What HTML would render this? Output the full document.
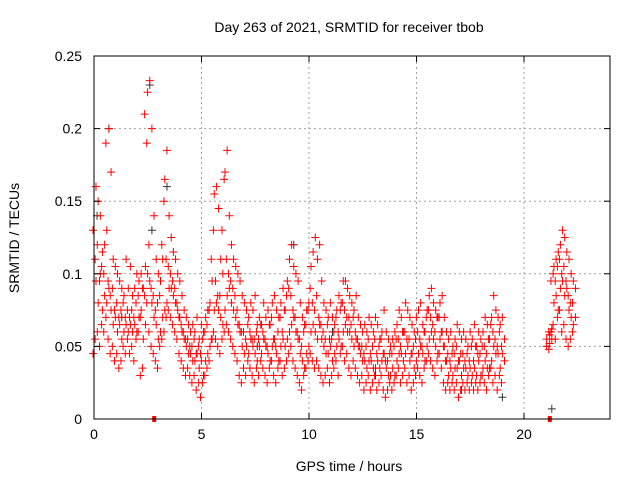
<!DOCTYPE html>
<html><head><meta charset="utf-8"><style>
body{margin:0;background:#fff;}
svg text{font-family:"Liberation Sans",sans-serif;font-size:14px;fill:#000;}
</style></head><body>
<svg id="chart" width="640" height="480" xmlns="http://www.w3.org/2000/svg">
<rect width="640" height="480" fill="#fff"/>
<g id="grid"></g>
<g id="pts"></g>
<rect x="94" y="56" width="516" height="363" fill="none" stroke="#000" stroke-width="1"/>
<g id="ticks"></g>
<text x="349" y="32" text-anchor="middle">Day 263 of 2021, SRMTID for receiver tbob</text>
<text x="349" y="471" text-anchor="middle">GPS time / hours</text>
<text transform="translate(19,238) rotate(-90)" text-anchor="middle">SRMTID / TECUs</text>
</svg>
<script>
const xTicks=[0,5,10,15,20];
const yTicks=[0,0.05,0.1,0.15,0.2,0.25];
const yTickLabels=["0","0.05","0.1","0.15","0.2","0.25"];
const hours=[0,0.1,0.2,0.3,0.4,0.5,0.6,0.7,0.8,0.9,1,1.1,1.2,1.3,1.4,1.5,1.6,1.7,1.8,1.9,2,2.1,2.2,2.3,2.4,2.5,2.6,2.7,2.8,2.9,3,3.1,3.2,3.3,3.4,3.5,3.6,3.7,3.8,3.9,4,4.1,4.2,4.3,4.4,4.5,4.6,4.7,4.8,4.9,5,5.1,5.2,5.3,5.4,5.5,5.6,5.7,5.8,5.9,6,6.1,6.2,6.3,6.4,6.5,6.6,6.7,6.8,6.9,7,7.1,7.2,7.3,7.4,7.5,7.6,7.7,7.8,7.9,8,8.1,8.2,8.3,8.4,8.5,8.6,8.7,8.8,8.9,9,9.1,9.2,9.3,9.4,9.5,9.6,9.7,9.8,9.9,10,10.1,10.2,10.3,10.4,10.5,10.6,10.7,10.8,10.9,11,11.1,11.2,11.3,11.4,11.5,11.6,11.7,11.8,11.9,12,12.1,12.2,12.3,12.4,12.5,12.6,12.7,12.8,12.9,13,13.1,13.2,13.3,13.4,13.5,13.6,13.7,13.8,13.9,14,14.1,14.2,14.3,14.4,14.5,14.6,14.7,14.8,14.9,15,15.1,15.2,15.3,15.4,15.5,15.6,15.7,15.8,15.9,16,16.1,16.2,16.3,16.4,16.5,16.6,16.7,16.8,16.9,17,17.1,17.2,17.3,17.4,17.5,17.6,17.7,17.8,17.9,18,18.1,18.2,18.3,18.4,18.5,18.6,18.7,18.8,18.9,19,21.1,21.2,21.3,21.4,21.5,21.6,21.7,21.8,21.9,22,22.1,22.2,22.3];
// milli-TECU values, 4 per time step
const srmtid=[[45,95,130,160],[55,80,110,150],[60,100,120,140],[50,75,95,115],[65,85,105,120],[60,80,100,130],[70,90,190,200],[55,75,95,170],[45,65,85,110],[50,70,90,105],[40,60,75,100],[45,65,80,95],[35,55,70,90],[40,60,75,85],[50,65,80,110],[45,60,70,90],[55,65,75,105],[45,60,70,85],[50,65,75,90],[40,60,70,100],[55,70,80,95],[60,75,85,100],[30,55,70,90],[35,65,90,105],[85,100,210,225],[80,95,190,233],[60,80,120,200],[50,70,90,140],[45,65,85,110],[40,55,75,100],[35,60,80,95],[50,70,85,110],[55,75,120,165],[60,80,150,185],[70,90,110,140],[75,90,105,125],[70,85,100,115],[65,80,95,110],[60,75,90,100],[55,70,80,95],[45,60,70,85],[40,55,65,75],[35,50,60,70],[30,45,55,65],[35,45,55,60],[30,40,50,65],[25,40,50,60],[30,45,55,70],[20,35,45,55],[25,40,50,65],[15,30,45,60],[25,40,55,70],[30,45,60,75],[35,50,65,80],[40,55,75,95],[55,75,110,155],[60,80,130,160],[55,75,95,145],[50,70,85,110],[45,65,85,100],[55,75,130,170],[60,85,165,185],[65,90,110,140],[60,80,100,120],[55,75,95,110],[50,70,90,105],[45,65,85,100],[40,60,75,95],[30,50,65,85],[25,45,60,80],[35,50,60,75],[30,45,55,70],[40,55,65,80],[35,50,60,75],[30,45,55,85],[25,40,55,65],[35,50,60,70],[30,45,55,65],[40,55,65,80],[35,50,60,70],[30,45,55,75],[25,40,50,65],[35,50,65,80],[40,55,70,85],[30,45,55,75],[25,40,50,70],[35,50,60,80],[40,55,70,90],[30,50,60,75],[35,55,75,95],[40,60,85,110],[45,65,90,120],[50,70,85,105],[40,60,75,100],[35,55,70,95],[30,45,60,80],[25,40,55,70],[20,35,50,65],[30,45,60,75],[35,50,65,80],[40,60,75,105],[45,65,90,115],[40,60,80,125],[35,55,75,110],[40,65,85,120],[35,55,70,95],[30,50,65,80],[25,45,60,75],[30,45,55,70],[35,50,65,80],[25,40,55,70],[30,45,55,65],[35,50,60,75],[40,55,70,85],[30,50,60,80],[45,60,75,95],[50,65,80,95],[40,60,75,90],[45,60,70,85],[35,55,70,80],[30,50,65,75],[40,55,70,85],[35,50,60,70],[30,45,55,65],[25,40,50,60],[30,40,50,65],[20,35,45,60],[25,40,50,70],[30,40,55,65],[20,35,45,60],[25,35,50,70],[30,40,55,65],[20,35,45,55],[25,40,50,60],[30,45,55,75],[20,35,45,60],[15,30,40,55],[20,30,40,50],[25,35,45,55],[20,30,45,60],[25,40,50,65],[30,45,55,75],[35,45,55,70],[25,40,50,60],[30,45,60,80],[35,50,60,75],[25,40,55,70],[30,45,55,65],[20,35,45,60],[25,40,50,70],[30,45,55,75],[35,50,60,80],[30,45,55,65],[25,40,50,60],[35,50,60,75],[40,55,70,85],[45,60,75,90],[40,55,70,80],[35,50,65,75],[30,45,60,70],[40,55,70,80],[45,60,70,85],[35,50,60,70],[25,40,50,60],[20,30,40,55],[25,35,45,60],[20,30,40,50],[25,35,45,55],[20,35,45,65],[25,40,50,60],[15,30,40,55],[20,35,45,60],[25,35,45,55],[20,30,40,50],[25,35,45,60],[20,30,40,55],[25,35,50,65],[20,30,40,50],[25,40,50,60],[20,30,45,55],[25,35,45,60],[30,40,50,70],[25,35,50,65],[20,35,45,55],[30,40,55,70],[35,50,65,85],[25,45,60,75],[30,45,55,70],[20,35,50,65],[30,45,60,70],[25,40,50,55],[50,52,55,58],[48,55,60,62],[60,80,95,105],[65,85,100,110],[55,75,95,115],[70,90,105,120],[75,95,110,130],[60,85,100,125],[65,90,105,115],[55,75,95,110],[50,70,85,100],[55,65,80,95],[60,70,80,90]];
const greyHours=[0.05,0.6,2.5,2.6,3.3,9.2,13.0,17.0,18.9,21.2,1.2,7.5,11.0];
const greyValues=[0.14,0.2,0.23,0.13,0.16,0.12,0.03,0.02,0.015,0.007,0.07,0.05,0.06];
const flagHours=[2.8,21.2];

const X0=94,X1=610,Y0=419,Y1=56;
const xs=h=>X0+h/24*(X1-X0);
const ys=v=>Y0-v/0.25*(Y0-Y1);
const NS="http://www.w3.org/2000/svg";
function mk(tag,attrs,parent){const e=document.createElementNS(NS,tag);for(const k in attrs)e.setAttribute(k,attrs[k]);parent.appendChild(e);return e;}
const grid=document.getElementById('grid'),ticks=document.getElementById('ticks'),pts=document.getElementById('pts');
xTicks.forEach(t=>{const x=xs(t);
 if(t>0){const g=mk('line',{x1:x,x2:x,y1:Y0,y2:Y1,stroke:'#a0a0a0','stroke-dasharray':'2,3'},grid);
 
 }
 mk('line',{x1:x,x2:x,y1:Y0,y2:Y0-6,stroke:'#000'},ticks);
 mk('line',{x1:x,x2:x,y1:Y1,y2:Y1+6,stroke:'#000'},ticks);
 const tx=mk('text',{x:x,y:Y0+20,'text-anchor':'middle'},ticks);tx.textContent=t;
 
 
});
yTicks.forEach((t,i)=>{const y=ys(t);
 if(i>0){const g=mk('line',{x1:X0,x2:X1,y1:y,y2:y,stroke:'#a0a0a0','stroke-dasharray':'2,3'},grid);
 
 }
 mk('line',{x1:X0,x2:X0+6,y1:y,y2:y,stroke:'#000'},ticks);
 mk('line',{x1:X1,x2:X1-6,y1:y,y2:y,stroke:'#000'},ticks);
 const tx=mk('text',{x:X0-12,y:y+5,'text-anchor':'end'},ticks);tx.textContent=yTickLabels[i];
 
 
});
function plus(x,y,c){const p=mk('path',{d:`M${x-4},${y}h8M${x},${y-4}v8`,stroke:c,'stroke-width':1,fill:'none'},pts);
 
 }
greyHours.forEach((h,i)=>plus(xs(h)+2,ys(greyValues[i]),'#333'));
hours.forEach((h,i)=>{srmtid[i].forEach((v,j)=>{plus(xs(h)+(j%2?2:-1),ys(v/1000),'#ff0000');});});
flagHours.forEach(h=>{const r=mk('rect',{x:xs(h)-2,y:Y0-3,width:4,height:6,fill:'#ff0000'},pts);
 
 });
</script>
</body></html>
